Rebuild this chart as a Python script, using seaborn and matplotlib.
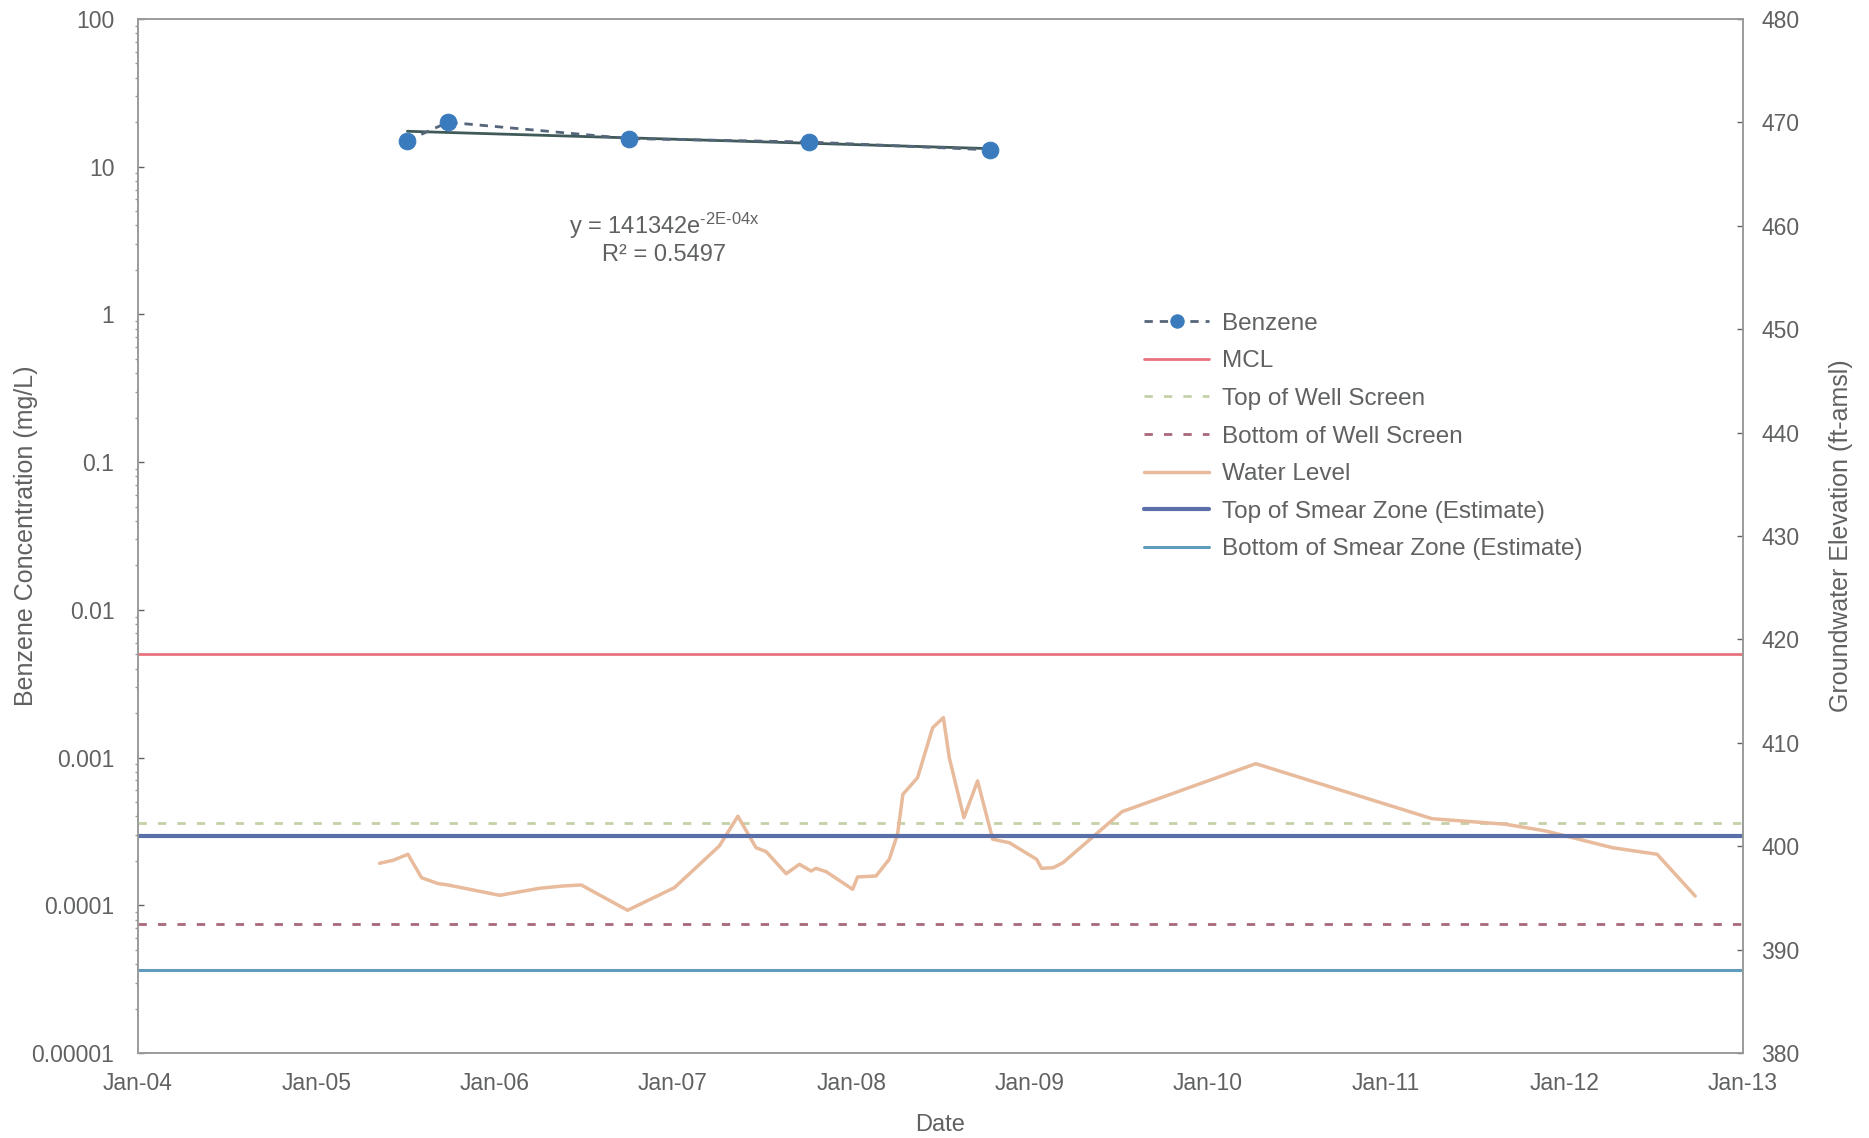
import numpy as np
import pandas as pd
import matplotlib
matplotlib.use("Agg")
import matplotlib.pyplot as plt
import matplotlib.dates as mdates
from matplotlib.ticker import FixedLocator, FuncFormatter, LogLocator, NullFormatter
import seaborn as sns

# ---- Benzene concentrations (mg/L) ----
benzene_dates = ["2005-07-06", "2005-09-27", "2006-10-03", "2007-10-06", "2008-10-12"]
benzene_conc = [15.0, 20.0, 15.5, 14.7, 13.0]

# ---- Groundwater elevation (ft-amsl) ----
water_dates = [
    "2005-05-10", "2005-06-07", "2005-07-07", "2005-08-04", "2005-09-07", "2005-09-27",
    "2006-01-11", "2006-04-03", "2006-05-20", "2006-06-27", "2006-09-30", "2007-01-04",
    "2007-04-06", "2007-05-14", "2007-06-20", "2007-07-11", "2007-08-21", "2007-09-17",
    "2007-10-11", "2007-10-21", "2007-11-11", "2008-01-04", "2008-01-14", "2008-02-21",
    "2008-03-19", "2008-04-05", "2008-04-16", "2008-05-16", "2008-06-16", "2008-07-08",
    "2008-07-20", "2008-08-19", "2008-09-16", "2008-10-17", "2008-11-20", "2009-01-15",
    "2009-01-25", "2009-02-18", "2009-03-10", "2009-07-09", "2010-04-09", "2011-04-05",
    "2011-09-03", "2011-11-24", "2012-04-09", "2012-07-09", "2012-09-25",
]
water_level = [
    398.35, 398.64, 399.22, 396.95, 396.38, 396.25,
    395.25, 395.93, 396.15, 396.25, 393.80, 395.99,
    400.02, 402.90, 399.86, 399.47, 397.34, 398.25,
    397.60, 397.86, 397.53, 395.83, 397.02, 397.12,
    398.73, 401.15, 405.02, 406.62, 411.46, 412.43,
    408.56, 402.76, 406.31, 400.67, 400.34, 398.73,
    397.86, 397.92, 398.41, 403.34, 407.98, 402.66,
    402.12, 401.47, 399.85, 399.22, 395.18,
]

# ---- Reference levels ----
mcl = 0.005                 # mg/L
top_well_screen = 402.2     # ft-amsl
bottom_well_screen = 392.5
top_smear_zone = 401.0
bottom_smear_zone = 388.0

trend_label = "y = 141342e$^{\\mathregular{\\text{-}2E\\text{-}04x}}$"
r2_label = "R² = 0.5497"

x_start, x_end = "2004-01-01", "2013-01-01"
left_ticks = [1e-5, 1e-4, 1e-3, 1e-2, 1e-1, 1, 10, 100]
left_tick_labels = ["0.00001", "0.0001", "0.001", "0.01", "0.1", "1", "10", "100"]
right_ticks = [380, 390, 400, 410, 420, 430, 440, 450, 460, 470, 480]

# ---- Styling ----
sns.set_theme(style="white")
plt.rcParams["font.family"] = ["Liberation Sans", "DejaVu Sans"]
plt.rcParams["mathtext.fontset"] = "custom"
plt.rcParams["mathtext.rm"] = "Liberation Sans"
plt.rcParams["mathtext.it"] = "Liberation Sans"

text_col = "#5f6260"
spine_col = "#9a9c9a"
c_benz_marker = "#3a7bbd"
c_benz_line = "#56667a"
c_trend = "#3f5a58"
c_mcl = "#e8737f"
c_top_ws = "#c4d0a8"
c_bot_ws = "#a8687a"
c_water = "#e8bb9c"
c_top_sz = "#5a6ea8"
c_bot_sz = "#5f9cbc"

benz = pd.DataFrame({"date": pd.to_datetime(benzene_dates), "conc": benzene_conc})
water = pd.DataFrame({"date": pd.to_datetime(water_dates), "elev": water_level})

fig = plt.figure(figsize=(18.69, 11.38), dpi=100)
ax = fig.add_axes([0.0738, 0.0747, 0.8588, 0.9086])
ax2 = ax.twinx()

x0, x1 = pd.Timestamp(x_start), pd.Timestamp(x_end)

# Benzene on the log axis
ax.set_yscale("log")
ax.set_ylim(1e-5, 100)
ax.set_xlim(x0, x1)

ax.axhline(mcl, color=c_mcl, lw=2.0, label="MCL", zorder=2)

sns.lineplot(data=benz, x="date", y="conc", ax=ax, color=c_benz_line, lw=2.0,
             linestyle=(0, (3, 2.5)), marker="o", markersize=12,
             markerfacecolor=c_benz_marker, markeredgecolor=c_benz_marker,
             label="Benzene", zorder=4)

# Exponential trendline fitted on Excel-style serial day numbers
serial = (benz["date"] - pd.Timestamp("1899-12-30")).dt.days.to_numpy()
slope, intercept = np.polyfit(serial, np.log(benz["conc"].to_numpy()), 1)
trend_x = np.linspace(serial.min(), serial.max(), 50)
trend_dates = pd.Timestamp("1899-12-30") + pd.to_timedelta(trend_x, unit="D")
ax.plot(trend_dates, np.exp(intercept + slope * trend_x), color=c_trend, lw=2.0,
        zorder=3)

ax.text(0.328, 0.800, trend_label, transform=ax.transAxes, ha="center", va="center",
        fontsize=17, color=text_col)
ax.text(0.328, 0.772, r2_label, transform=ax.transAxes, ha="center", va="center",
        fontsize=17, color=text_col)

# Groundwater on the elevation axis
ax2.set_ylim(380, 480)
ax2.axhline(top_well_screen, color=c_top_ws, lw=2.0, linestyle=(0, (3, 4)),
            label="Top of Well Screen")
ax2.axhline(bottom_well_screen, color=c_bot_ws, lw=2.0, linestyle=(0, (3, 4)),
            label="Bottom of Well Screen")
sns.lineplot(data=water, x="date", y="elev", ax=ax2, color=c_water, lw=2.5,
             label="Water Level")
ax2.axhline(top_smear_zone, color=c_top_sz, lw=3.0, label="Top of Smear Zone (Estimate)")
ax2.axhline(bottom_smear_zone, color=c_bot_sz, lw=2.2,
            label="Bottom of Smear Zone (Estimate)")
ax2.set_xlim(x0, x1)

# Axes formatting
ax.xaxis.set_major_locator(mdates.YearLocator())
ax.xaxis.set_major_formatter(mdates.DateFormatter("Jan-%y"))
ax.yaxis.set_major_locator(FixedLocator(left_ticks))
ax.yaxis.set_major_formatter(FuncFormatter(
    lambda v, p: dict(zip(left_ticks, left_tick_labels)).get(v, "")))
ax.yaxis.set_minor_locator(LogLocator(base=10, subs=np.arange(2, 10)))
ax.yaxis.set_minor_formatter(NullFormatter())
ax2.yaxis.set_major_locator(FixedLocator(right_ticks))

for a in (ax, ax2):
    a.tick_params(axis="both", which="major", labelsize=16.5, colors=text_col,
                  length=4, width=1, direction="in")
    a.tick_params(axis="y", which="minor", length=2, color=spine_col)
    for s in a.spines.values():
        s.set_color(spine_col)
        s.set_linewidth(1.2)
    a.grid(False)
ax.tick_params(axis="x", pad=14)
ax.tick_params(axis="y", pad=17)
ax2.tick_params(axis="y", pad=13)

ax.set_xlabel("Date", fontsize=17, color=text_col)
ax.set_ylabel("Benzene Concentration (mg/L)", fontsize=18, color=text_col)
ax2.set_ylabel("Groundwater Elevation (ft-amsl)", fontsize=18, color=text_col)
ax.xaxis.set_label_coords(0.5, -0.059)
ax.yaxis.set_label_coords(-0.0625, 0.5)
ax2.yaxis.set_label_coords(1.0535, 0.5)

# Combined legend
h1, l1 = ax.get_legend_handles_labels()
h2, l2 = ax2.get_legend_handles_labels()
handles = dict(zip(l1 + l2, h1 + h2))
order = ["Benzene", "MCL", "Top of Well Screen", "Bottom of Well Screen", "Water Level",
         "Top of Smear Zone (Estimate)", "Bottom of Smear Zone (Estimate)"]
if ax.get_legend():
    ax.get_legend().remove()
if ax2.get_legend():
    ax2.get_legend().remove()
leg = ax2.legend([handles[k] for k in order], order, loc="upper left",
                 bbox_to_anchor=(0.613, 0.737), frameon=False, fontsize=17.5,
                 handlelength=2.7, handletextpad=0.5, labelspacing=0.64,
                 markerscale=0.8)
for t in leg.get_texts():
    t.set_color(text_col)

fig.savefig("out.png", dpi=100, facecolor="white")
